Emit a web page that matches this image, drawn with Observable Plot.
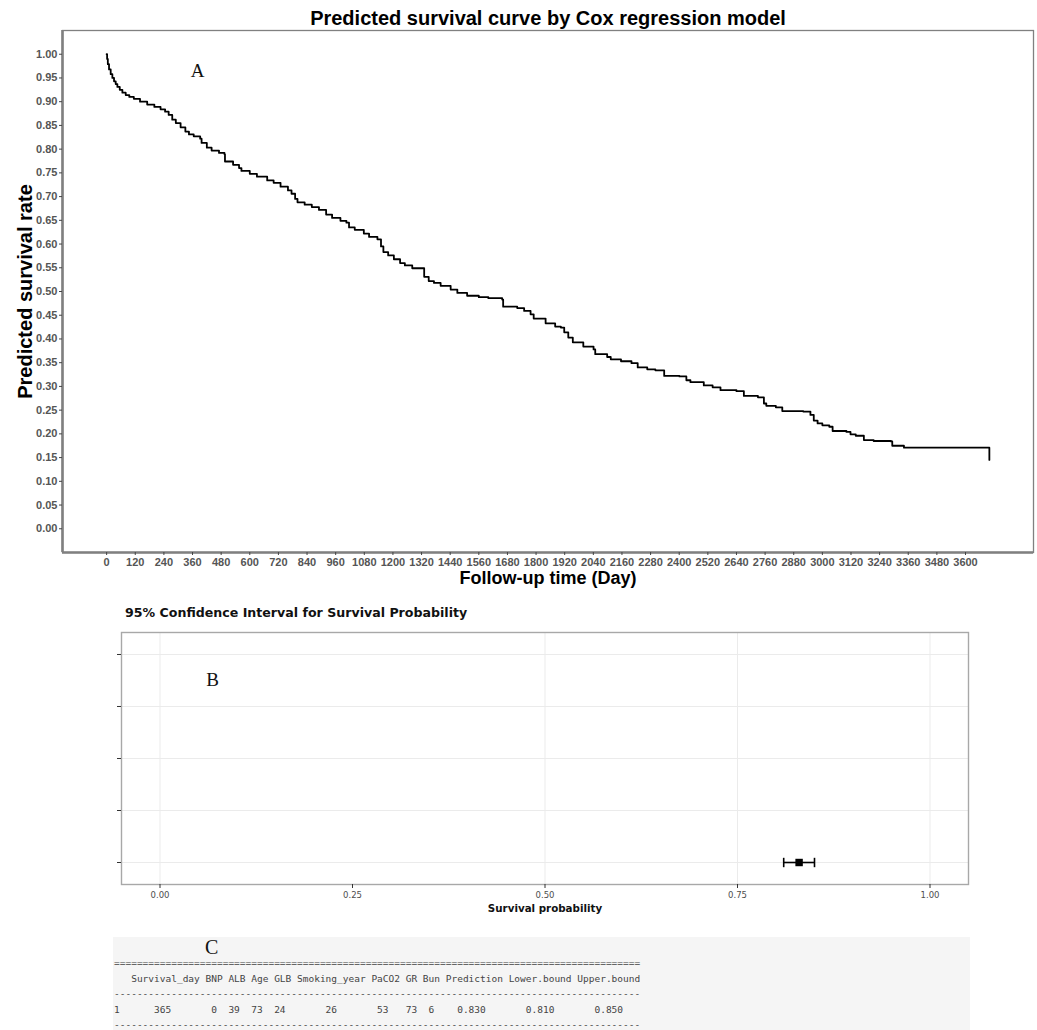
<!DOCTYPE html>
<html>
<head>
<meta charset="utf-8">
<script src="https://cdn.jsdelivr.net/npm/d3@7"></script>
<script src="https://cdn.jsdelivr.net/npm/@observablehq/plot@0.6"></script>
<style>
  html, body { margin: 0; padding: 0; background: #fff; }
  body { width: 1037px; height: 1030px; position: relative; overflow: hidden; }
  .abs { position: absolute; }
  #titleB { left: 125px; top: 605px; font-family: "DejaVu Sans", Verdana, sans-serif; font-weight: bold; font-size: 12.6px; color: #111; white-space: nowrap; line-height: 16px; }
  #boxC { left: 113px; top: 937px; width: 857px; height: 100px; background: #f5f5f5; }
  #labelC { left: 205px; top: 938px; font-family: "Liberation Serif", "Times New Roman", serif; font-size: 20px; color: #111; line-height: 18px; }
  #tableC { left: 114px; top: 955px; margin: 0; font-family: "DejaVu Sans Mono", "Liberation Mono", monospace; font-size: 9.5px; line-height: 15.6px; color: #444; white-space: pre; }
  .pa text, .pb text { font-family: inherit; }
  .pa g[aria-label="x-axis tick label"] text, .pa g[aria-label="y-axis tick label"] text { font-weight: bold; }
</style>
</head>
<body>
<div id="A" class="abs" style="left:0;top:0"></div>
<div id="titleB" class="abs"></div>
<div id="B" class="abs" style="left:0;top:620px"></div>
<div id="boxC" class="abs"></div>
<div id="labelC" class="abs"></div>
<pre id="tableC" class="abs"></pre>
<script>
// ---------- Panel A data: predicted survival step curve ----------
const days = [0,2,5,10,17,24,31,38,45,55,
  66,80,95,114,140,170,200,226,245,260,
  275,290,310,330,345,365,392,398,420,440,
  471,494,496,530,555,565,600,630,673,700,
  729,760,775,790,800,830,860,890,920,945,
  980,1005,1016,1040,1078,1100,1135,1150,1160,1180,
  1204,1230,1250,1281,1331,1350,1372,1400,1442,1470,
  1511,1560,1600,1658,1662,1721,1750,1777,1790,1840,
  1880,1904,1918,1935,1954,1998,2041,2048,2098,2113,
  2156,2200,2226,2266,2300,2337,2401,2430,2447,2503,
  2540,2573,2640,2671,2730,2755,2765,2805,2832,2920,
  2950,2964,2980,3000,3029,3043,3101,3118,3140,3174,
  3215,3288,3293,3342,3700,3700];
const surv = [1.0,0.99,0.979,0.968,0.958,0.95,0.943,0.937,0.931,0.925,
  0.919,0.914,0.910,0.906,0.900,0.894,0.889,0.884,0.879,0.872,
  0.862,0.855,0.846,0.837,0.831,0.827,0.822,0.813,0.803,0.797,
  0.792,0.789,0.774,0.767,0.760,0.754,0.748,0.742,0.734,0.729,
  0.721,0.713,0.706,0.695,0.688,0.683,0.678,0.672,0.662,0.655,
  0.649,0.645,0.635,0.630,0.622,0.615,0.610,0.595,0.583,0.576,
  0.568,0.560,0.555,0.549,0.531,0.522,0.518,0.512,0.504,0.497,
  0.491,0.488,0.486,0.483,0.468,0.465,0.459,0.452,0.443,0.433,
  0.426,0.424,0.414,0.403,0.393,0.384,0.378,0.368,0.362,0.357,
  0.353,0.349,0.340,0.336,0.334,0.322,0.321,0.313,0.309,0.302,
  0.298,0.292,0.290,0.280,0.277,0.264,0.259,0.256,0.248,0.247,
  0.240,0.228,0.222,0.218,0.215,0.206,0.204,0.199,0.196,0.187,
  0.185,0.184,0.175,0.171,0.171,0.145];
const xTicksA = [0,120,240,360,480,600,720,840,960,1080,1200,1320,1440,1560,1680,1800,
  1920,2040,2160,2280,2400,2520,2640,2760,2880,3000,3120,3240,3360,3480,3600];
const yTicksA = [0,0.05,0.10,0.15,0.20,0.25,0.30,0.35,0.40,0.45,0.50,0.55,0.60,0.65,0.70,
  0.75,0.80,0.85,0.90,0.95,1.00];
const titleA = "Predicted survival curve by Cox regression model";
const xLabelA = "Follow-up time (Day)";
const yLabelA = "Predicted survival rate";
const tagA = "A";

// ---------- Panel B data: 95% CI ----------
const titleB = "95% Confidence Interval for Survival Probability";
const xLabelB = "Survival probability";
const xTicksB = [0, 0.25, 0.5, 0.75, 1.0];
const xGridB = [0, 0.5, 0.75, 1.0];
const yTicksB = [1, 2, 3, 4, 5];
const predRow = [1];
const predEst = [0.830];
const predLower = [0.810];
const predUpper = [0.850];
const tagB = "B";

// ---------- Panel C data: table ----------
const tableCols = ["Survival_day","BNP","ALB","Age","GLB","Smoking_year","PaCO2","GR","Bun","Prediction","Lower.bound","Upper.bound"];
const tableVals = ["365","0","39","73","24","26","53","73","6","0.830","0.810","0.850"];
const tableRowName = "1";
const tagC = "C";

// ---------- Panel A ----------
const curve = days.map((d, i) => ({day: d, surv: surv[i]}));
const xDomA = [-185, 3885], yDomA = [-0.05, 1.05];
const fontA = "'Liberation Sans', Arial, Helvetica, sans-serif";
const plotA = Plot.plot({
  className: "pa",
  width: 1037, height: 590,
  marginTop: 30, marginLeft: 62, marginRight: 4, marginBottom: 38,
  style: {fontFamily: fontA, background: "white", overflow: "visible"},
  x: {domain: xDomA},
  y: {domain: yDomA},
  marks: [
    Plot.frame({stroke: "#808080", strokeWidth: 1.3}),
    Plot.ruleX([xDomA[0]], {stroke: "#808080", strokeWidth: 2.6}),
    Plot.ruleY([yDomA[0]], {stroke: "#808080", strokeWidth: 2.6}),
    Plot.axisX({ticks: xTicksA, tickFormat: d => String(d), tickSize: 3, tickPadding: 3,
      fontSize: 11, fill: "#555", stroke: "#444", label: null}),
    Plot.axisY({ticks: yTicksA, tickFormat: d3.format(".2f"), tickSize: 3, tickPadding: 2,
      fontSize: 11, fill: "#555", stroke: "#444", label: null}),
    Plot.line(curve, {x: "day", y: "surv", curve: "step-after", stroke: "#000", strokeWidth: 1.8}),
    Plot.text([titleA], {frameAnchor: "top", dy: -12, lineAnchor: "middle", fontSize: 20, fontWeight: "bold", fill: "#000"}),
    Plot.text([yLabelA], {frameAnchor: "left", dx: -37, rotate: -90, lineAnchor: "middle", textAnchor: "middle", fontSize: 20, fontWeight: "bold", fill: "#000"}),
    Plot.text([xLabelA], {frameAnchor: "bottom", dy: 26, lineAnchor: "middle", fontSize: 18, fontWeight: "bold", fill: "#000"}),
    Plot.text([tagA], {frameAnchor: "top-left", dx: 135, dy: 40, textAnchor: "middle", lineAnchor: "middle", fontSize: 19, fontFamily: "'Liberation Serif', 'Times New Roman', serif", fill: "#111"})
  ]
});
document.getElementById("A").appendChild(plotA);

// ---------- Panel B ----------
document.getElementById("titleB").textContent = titleB;
const pred = predRow.map((r, i) => ({row: r, est: predEst[i], lower: predLower[i], upper: predUpper[i]}));
const caps = pred.flatMap(d => [{row: d.row, x: d.lower}, {row: d.row, x: d.upper}]);
const vbar = {draw(ctx, size) { const h = Math.sqrt(size / Math.PI); ctx.moveTo(0, -h); ctx.lineTo(0, h); }};
const fontB = "'DejaVu Sans', Verdana, sans-serif";
const plotB = Plot.plot({
  className: "pb",
  width: 1037, height: 300,
  marginTop: 12, marginLeft: 121, marginRight: 69, marginBottom: 36,
  style: {fontFamily: fontB, background: "white", overflow: "visible"},
  x: {domain: [-0.05, 1.05]},
  y: {domain: [0.577, 5.423]},
  marks: [
    Plot.gridX(xGridB, {stroke: "#ebebeb", strokeOpacity: 1, strokeWidth: 1}),
    Plot.gridY(yTicksB, {stroke: "#ebebeb", strokeOpacity: 1, strokeWidth: 1}),
    Plot.frame({stroke: "#a8a8a8", strokeWidth: 1.4}),
    Plot.axisX({ticks: xTicksB, tickFormat: d3.format(".2f"), tickSize: 4, tickPadding: 3,
      fontSize: 8.5, fill: "#4d4d4d", stroke: "#333", label: null}),
    Plot.axisY({ticks: yTicksB, tickFormat: () => "", tickSize: 4, stroke: "#333", label: null}),
    Plot.ruleY(pred, {y: "row", x1: "lower", x2: "upper", stroke: "#000", strokeWidth: 1.6}),
    Plot.dot(caps, {x: "x", y: "row", symbol: vbar, r: 4.7, fill: "none", stroke: "#000", strokeWidth: 1.6}),
    Plot.dot(pred, {x: "est", y: "row", symbol: "square", r: 4.2, fill: "#000", stroke: "none"}),
    Plot.text([xLabelB], {frameAnchor: "bottom", dy: 24, lineAnchor: "middle", fontSize: 10.3, fontWeight: "bold", fill: "#111"}),
    Plot.text([tagB], {frameAnchor: "top-left", dx: 91, dy: 47, textAnchor: "middle", lineAnchor: "middle", fontSize: 19, fontFamily: "'Liberation Serif', 'Times New Roman', serif", fill: "#111"})
  ]
});
document.getElementById("B").appendChild(plotB);

// ---------- Panel C ----------
document.getElementById("labelC").textContent = tagC;
const lead = 3;
const header = " ".repeat(lead) + tableCols.join(" ");
const total = header.length;
const rowChars = Array(total).fill(" ");
tableRowName.split("").forEach((c, i) => rowChars[i] = c);
let col = lead;
tableCols.forEach((name, i) => {
  const v = tableVals[i];
  const start = col + Math.floor((name.length - v.length) / 2);
  v.split("").forEach((c, j) => rowChars[start + j] = c);
  col += name.length + 1;
});
const lines = ["=".repeat(total), header, "-".repeat(total), rowChars.join(""), "-".repeat(total)];
document.getElementById("tableC").textContent = lines.join("\n");
</script>
</body>
</html>
